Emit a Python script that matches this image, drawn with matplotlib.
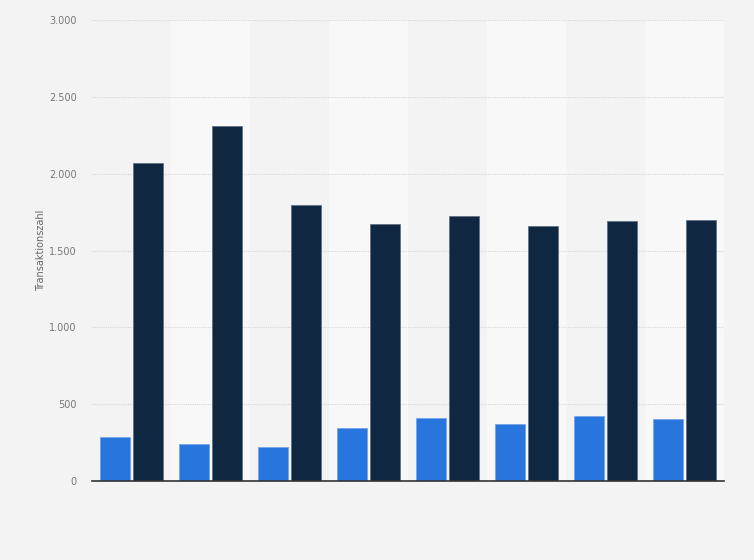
import matplotlib.pyplot as plt
import numpy as np
from matplotlib.ticker import FuncFormatter

groups = ['1', '2', '3', '4', '5', '6', '7', '8']
series_a = [286, 241, 221, 345, 410, 371, 423, 403]
series_b = [2069, 2310, 1796, 1672, 1724, 1659, 1692, 1698]
yticks = [0, 500, 1000, 1500, 2000, 2500, 3000]

fig = plt.figure(figsize=(7.54, 5.6), dpi=100)
fig.patch.set_facecolor('#f3f3f3')
ax = fig.add_axes([0.122, 0.141, 0.838, 0.823])
ax.set_facecolor('#f3f3f3')

x = np.arange(len(groups))
for i in x:
    if i % 2 == 1:
        ax.axvspan(i - 0.5, i + 0.5, color='#f8f8f8', zorder=0, lw=0)

w = 0.38
ax.bar(x - 0.21, series_a, w, color='#2876dd', edgecolor='#6fa0e6', linewidth=0.5, zorder=3)
ax.bar(x + 0.21, series_b, w, color='#0f2741', edgecolor='#5a6b80', linewidth=0.5, zorder=3)

ax.set_xlim(-0.5, len(groups) - 0.5)
ax.set_ylim(0, 3000)
ax.set_yticks(yticks)
ax.yaxis.set_major_formatter(FuncFormatter(lambda v, p: f'{int(v):,}'.replace(',', '.')))
ax.set_xticks([])
ax.tick_params(axis='y', length=0, labelsize=7, labelcolor='#777777', pad=11)
ax.grid(axis='y', color='#d8d8d8', linestyle=(0, (1, 1)), linewidth=0.8, zorder=1)
for s in ['top', 'right', 'left']:
    ax.spines[s].set_visible(False)
ax.spines['bottom'].set_color('#333333')
ax.spines['bottom'].set_linewidth(1.2)
ax.spines['bottom'].set_zorder(4)
ax.set_ylabel('Transaktionszahl', fontsize=7, color='#666666', labelpad=2)

fig.savefig('out.png', dpi=100, facecolor=fig.get_facecolor())
